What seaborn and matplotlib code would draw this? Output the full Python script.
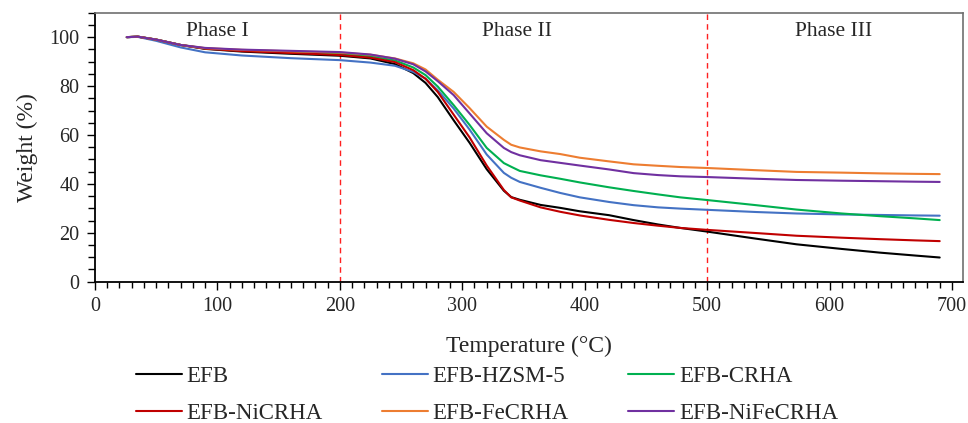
import numpy as np
import pandas as pd
import matplotlib
matplotlib.use("Agg")
import matplotlib.pyplot as plt
from matplotlib.ticker import MultipleLocator
import seaborn as sns

# Temperature grid (°C) shared by every TGA curve
temperature = [26, 35, 50, 70, 90, 120, 160, 200, 225, 245, 260, 270, 280, 293,
               306, 320, 334, 340, 347, 364, 380, 396, 420, 440, 460, 478, 500,
               540, 573, 610, 641, 670, 690]

# Residual weight (%) of each sample
efb = [100, 100.2, 99, 96.8, 95.2, 94.1, 93.2, 92.4, 91.3, 89.0, 85.3, 81.3, 75.5, 66.0,
       56.8, 46.0, 37.2, 34.6, 33.5, 31.4, 30.2, 28.8, 27.2, 25.2, 23.4, 22.0, 20.5,
       17.6, 15.3, 13.4, 11.9, 10.7, 9.9]
efb_hzsm5 = [100, 100.1, 98.5, 95.8, 93.8, 92.5, 91.4, 90.6, 89.6, 88.3, 85.8, 83.0, 78.3, 70.8,
             62.2, 52.0, 44.5, 42.5, 40.8, 38.4, 36.3, 34.5, 32.6, 31.3, 30.4, 29.9, 29.4,
             28.5, 27.9, 27.5, 27.3, 27.1, 27.0]
efb_crha = [100, 100.2, 99, 96.8, 95.4, 94.5, 93.8, 93.1, 92.2, 90.5, 87.6, 84.5, 79.8, 72.2,
            64.1, 54.7, 48.5, 47.0, 45.3, 43.5, 42.1, 40.6, 38.6, 37.1, 35.7, 34.5, 33.4,
            31.3, 29.5, 27.9, 26.8, 25.9, 25.2]
efb_nicrha = [100, 100.2, 99, 96.8, 95.3, 94.3, 93.5, 92.7, 91.6, 89.8, 86.5, 83.0, 77.6, 68.3,
              59.0, 47.5, 37.5, 34.5, 33.2, 30.4, 28.6, 27.1, 25.3, 24.0, 22.9, 22.0, 21.2,
              19.9, 18.8, 18.0, 17.4, 16.9, 16.6]
efb_fecrha = [100, 100.2, 99, 96.8, 95.5, 94.8, 94.2, 93.7, 92.8, 91.3, 89.3, 86.8, 82.6, 77.6,
              71.0, 63.4, 58.0, 56.0, 54.9, 53.3, 52.2, 50.7, 49.2, 48.0, 47.4, 46.9, 46.5,
              45.6, 44.9, 44.6, 44.3, 44.1, 44.0]
efb_nifecrha = [100, 100.2, 99, 96.8, 95.6, 94.9, 94.4, 93.9, 92.9, 91.2, 88.9, 86.0, 82.0, 76.3,
                68.8, 60.7, 54.7, 53.0, 51.7, 49.7, 48.6, 47.5, 45.9, 44.4, 43.6, 43.1, 42.8,
                42.1, 41.6, 41.3, 41.1, 40.9, 40.8]

samples = ["EFB", "EFB-HZSM-5", "EFB-CRHA", "EFB-NiCRHA", "EFB-FeCRHA", "EFB-NiFeCRHA"]
colors = ["#000000", "#4472C4", "#00B050", "#C00000", "#ED7D31", "#7030A0"]

phase_labels = ["Phase I", "Phase II", "Phase III"]
phase_label_x = [100, 345, 603]
phase_bounds = [200, 500]

series = dict(zip(samples, [efb, efb_hzsm5, efb_crha, efb_nicrha, efb_fecrha, efb_nifecrha]))
df = pd.concat(
    [pd.DataFrame({"Temperature": temperature, "Weight": w, "Sample": name})
     for name, w in series.items()],
    ignore_index=True,
)

sns.set_style("white")
plt.rcParams["font.family"] = ["Liberation Serif", "DejaVu Serif"]

fig = plt.figure(figsize=(9.68, 4.23), dpi=100)
ax = fig.add_axes([0.0981, 0.334, 0.8967, 0.636])

sns.lineplot(data=df, x="Temperature", y="Weight", hue="Sample", hue_order=samples,
             palette=colors, linewidth=1.5, ax=ax, sort=False, estimator=None)

for b in phase_bounds:
    ax.axvline(b, color="#FF2020", linestyle=(0, (4, 3)), linewidth=1.0, zorder=0)

for lbl, xpos in zip(phase_labels, phase_label_x):
    ax.text(xpos, 102.3, lbl, ha="center", va="center", fontsize=15.5)

ax.set_xlim(0, 709)
ax.set_ylim(0, 110)
ax.xaxis.set_major_locator(MultipleLocator(100))
ax.xaxis.set_minor_locator(MultipleLocator(10))
ax.yaxis.set_major_locator(MultipleLocator(20))
ax.yaxis.set_minor_locator(MultipleLocator(5))
ax.set_xticks(np.arange(0, 701, 100))
ax.set_yticks(np.arange(0, 101, 20))
ax.tick_params(axis="both", which="major", direction="out", labelsize=14.5,
               length=6, width=1.0, color="black", pad=5,
               bottom=True, left=True, top=False, right=False)
ax.tick_params(axis="x", which="minor", direction="out", length=4, width=1.0,
               color="black", bottom=True, top=False)
ax.tick_params(axis="y", which="minor", direction="out", length=5, width=1.0,
               color="black", left=True, right=False)

for side in ["left", "bottom"]:
    ax.spines[side].set_color("black")
    ax.spines[side].set_linewidth(1.3)
for side in ["top", "right"]:
    ax.spines[side].set_color("#707070")
    ax.spines[side].set_linewidth(1.2)

ax.set_xlabel("Temperature (°C)", fontsize=17, labelpad=14)
ax.set_ylabel("Weight (%)", fontsize=17, labelpad=8)

# Legend laid out row by row: three samples per row
handles, labels = ax.get_legend_handles_labels()
ax.get_legend().remove()
order = [0, 3, 1, 4, 2, 5]
fig.legend([handles[i] for i in order], [labels[i] for i in order],
           ncol=3, loc="center", bbox_to_anchor=(0.503, 0.066),
           frameon=False, fontsize=16.5, handlelength=2.0, handletextpad=0.2,
           columnspacing=2.6, labelspacing=0.7)

fig.savefig("out.png", dpi=100)
